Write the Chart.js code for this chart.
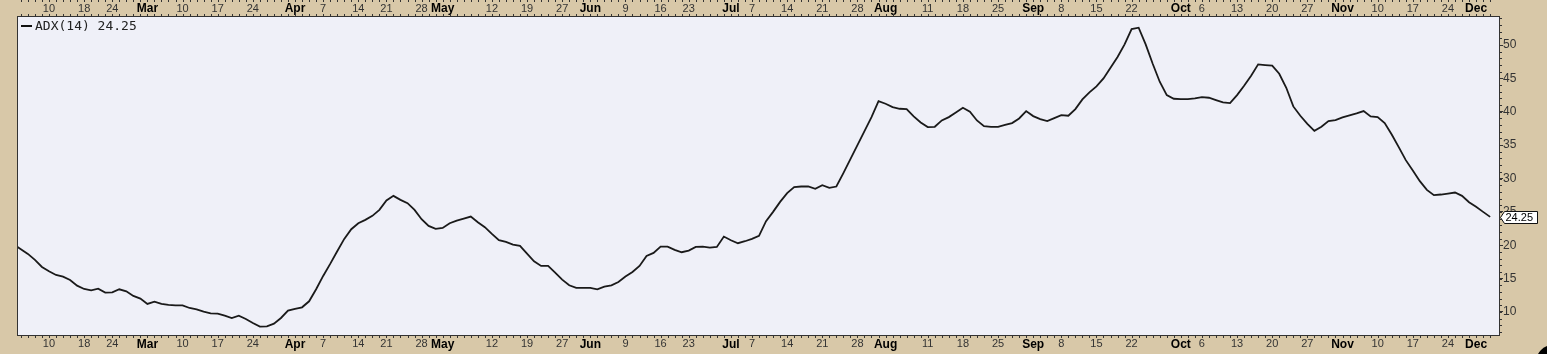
<!DOCTYPE html>
<html>
<head>
<meta charset="utf-8">
<script src="https://cdn.jsdelivr.net/npm/chart.js@4.4.1/dist/chart.umd.min.js"></script>
<style>
  html, body { margin: 0; padding: 0; background: #d8c8a8; }
  canvas { display: block; }
</style>
</head>
<body>
<canvas id="chart" width="1547" height="354"></canvas>
<script>
// trading calendar (weekdays minus market holidays)
const startDate = '2025-02-03';
const endDate = '2025-12-03';
const holidays = ['2025-02-17', '2025-04-18', '2025-05-26', '2025-06-19', '2025-07-04', '2025-09-01', '2025-11-27'];

// ADX(14), one value per trading day
const adxValues = [
  20.1, 19.4, 18.7, 17.8, 16.75,
  16.1, 15.55, 15.3, 14.8, 13.95,
  13.45, 13.25, 13.5, 12.9,
  12.95, 13.4, 13.1, 12.4, 12.0,
  11.2, 11.55, 11.2, 11.05, 11.0,
  11.0, 10.6, 10.4, 10.05, 9.8,
  9.75, 9.45, 9.1, 9.45, 8.95,
  8.35, 7.8, 7.85, 8.25, 9.1,
  10.2, 10.45, 10.7, 11.6, 13.4,
  15.4, 17.2, 19.1, 20.95, 22.4,
  23.3, 23.8, 24.4, 25.3,
  26.7, 27.4, 26.8, 26.3, 25.3,
  23.9, 22.9, 22.45, 22.6, 23.3,
  23.7, 24.0, 24.3, 23.45, 22.7,
  21.7, 20.75, 20.5, 20.1, 19.9,
  18.75, 17.6, 16.9, 16.9, 15.9,
  14.85, 14.0, 13.6, 13.6,
  13.6, 13.4, 13.8, 14.0, 14.5,
  15.3, 16.0, 16.9, 18.4, 18.85,
  19.8, 19.8, 19.3, 18.95,
  19.2, 19.75, 19.8, 19.65, 19.75,
  21.3, 20.75, 20.3, 20.6,
  20.95, 21.4, 23.6, 25.0, 26.5,
  27.8, 28.7, 28.8, 28.8, 28.45,
  29.0, 28.6, 28.8, 30.8, 32.9,
  35.0, 37.1, 39.2, 41.6, 41.2,
  40.7, 40.45, 40.4, 39.3, 38.4,
  37.7, 37.75, 38.7, 39.2, 39.9,
  40.6, 40.0, 38.7, 37.85, 37.75,
  37.75, 38.05, 38.3, 39.0, 40.1,
  39.35, 38.9, 38.6, 39.05,
  39.5, 39.4, 40.4, 41.85, 42.9,
  43.8, 45.0, 46.6, 48.2, 50.1,
  52.4, 52.6, 50.1, 47.2, 44.5,
  42.5, 41.95, 41.9, 41.9, 42.0,
  42.2, 42.1, 41.75, 41.4, 41.3,
  42.5, 43.9, 45.4, 47.1, 47.0,
  46.9, 45.7, 43.6, 40.8, 39.4,
  38.2, 37.15, 37.75, 38.6, 38.75,
  39.15, 39.45, 39.75, 40.1, 39.3,
  39.2, 38.3, 36.6, 34.7, 32.75,
  31.2, 29.6, 28.3, 27.5, 27.6,
  27.75, 27.9, 27.4, 26.45,
  25.75, 25.0, 24.25
];

// date axis labels
const tickDates = [
  '2025-02-10', '2025-02-18', '2025-02-24', '2025-03-03', '2025-03-10', '2025-03-17', '2025-03-24',
  '2025-04-01', '2025-04-07', '2025-04-14', '2025-04-21', '2025-04-28', '2025-05-01', '2025-05-12',
  '2025-05-19', '2025-05-27', '2025-06-02', '2025-06-09', '2025-06-16', '2025-06-23', '2025-07-01',
  '2025-07-07', '2025-07-14', '2025-07-21', '2025-07-28', '2025-08-01', '2025-08-11', '2025-08-18',
  '2025-08-25', '2025-09-02', '2025-09-08', '2025-09-15', '2025-09-22', '2025-10-01', '2025-10-06',
  '2025-10-13', '2025-10-20', '2025-10-27', '2025-11-03', '2025-11-10', '2025-11-17', '2025-11-24',
  '2025-12-01'
];
const tickLabels = [
  '10', '18', '24', 'Mar', '10', '17', '24',
  'Apr', '7', '14', '21', '28', 'May', '12',
  '19', '27', 'Jun', '9', '16', '23', 'Jul',
  '7', '14', '21', '28', 'Aug', '11', '18',
  '25', 'Sep', '8', '15', '22', 'Oct', '6',
  '13', '20', '27', 'Nov', '10', '17', '24',
  'Dec'
];
const yTickValues = [10, 15, 20, 25, 30, 35, 40, 45, 50];
const seriesName = 'ADX(14)';

function tradingDays(from, to) {
  const out = [];
  const d = new Date(from + 'T00:00:00Z');
  const end = new Date(to + 'T00:00:00Z');
  while (d <= end) {
    const iso = d.toISOString().slice(0, 10);
    const wd = d.getUTCDay();
    if (wd !== 0 && wd !== 6 && !holidays.includes(iso)) out.push(iso);
    d.setUTCDate(d.getUTCDate() + 1);
  }
  return out;
}

const days = tradingDays(startDate, endDate);
const tickIdx = tickDates.map(d => days.indexOf(d));
const points = adxValues.map((v, i) => ({ x: i, y: v }));
const lastValue = adxValues[adxValues.length - 1];

const TAN = '#d8c8a8';
const PLOT_BG = '#eff0f8';
const INK = '#222';

const isMonth = i => isNaN(Number(tickLabels[i]));
const xFont = ctx => ({
  family: '"Liberation Sans", Arial, sans-serif',
  size: isMonth(ctx.index) ? 12 : 11,
  weight: isMonth(ctx.index) ? 'bold' : 'normal'
});
const xColor = ctx => isMonth(ctx.index) ? '#000' : '#333';

function dateAxis(position, height, padding) {
  return {
    type: 'linear',
    position: position,
    min: 0.45,
    max: 211.26,
    afterBuildTicks: s => { s.ticks = tickIdx.map(v => ({ value: v })); },
    afterFit: s => { s.height = height; },
    grid: { display: false, drawTicks: false },
    border: { display: false },
    ticks: {
      autoSkip: false,
      maxRotation: 0,
      minRotation: 0,
      padding: padding,
      color: xColor,
      font: xFont,
      callback: (v, i) => tickLabels[i]
    }
  };
}

const chartDecor = {
  id: 'chartDecor',
  beforeDraw(chart) {
    const { ctx, chartArea: a } = chart;
    ctx.save();
    ctx.fillStyle = TAN;
    ctx.fillRect(0, 0, chart.width, chart.height);
    ctx.fillStyle = PLOT_BG;
    ctx.fillRect(a.left, a.top, a.right - a.left, a.bottom - a.top);
    ctx.restore();
  },
  afterDraw(chart) {
    const { ctx, chartArea: a } = chart;
    const xs = chart.scales.x;
    const ys = chart.scales.y;
    ctx.save();

    // plot frame
    ctx.strokeStyle = '#333';
    ctx.lineWidth = 1;
    ctx.strokeRect(a.left + 0.5, a.top - 0.5, a.right - a.left, a.bottom - a.top + 1);

    // daily tick dots along the date bands
    ctx.fillStyle = '#333';
    days.forEach((d, i) => {
      const px = Math.round(xs.getPixelForValue(i));
      if (px < a.left || px > a.right) return;
      ctx.fillRect(px, 0, 1, 2);
      ctx.fillRect(px, a.top - 3, 1, 2);
      ctx.fillRect(px, a.bottom + 1, 1, 2);
    });

    // minor ticks on the value axis
    for (let v = 7; v <= 54; v++) {
      const py = Math.round(ys.getPixelForValue(v));
      ctx.fillRect(a.right + 1, py, 2, 1);
    }

    // legend
    ctx.fillStyle = '#111';
    ctx.fillRect(a.left + 4, a.top + 8, 11, 2);
    ctx.font = '13px "DejaVu Sans Mono", monospace';
    ctx.textBaseline = 'middle';
    ctx.fillStyle = INK;
    ctx.fillText(seriesName + ' ' + lastValue.toFixed(2), a.left + 18, a.top + 9.5);

    // last value tag
    const ty = Math.round(ys.getPixelForValue(lastValue)) + 0.5;
    const tx = a.right + 1.5;
    ctx.beginPath();
    ctx.moveTo(tx, ty);
    ctx.lineTo(tx + 4, ty - 6);
    ctx.lineTo(tx + 37, ty - 6);
    ctx.lineTo(tx + 37, ty + 6);
    ctx.lineTo(tx + 4, ty + 6);
    ctx.closePath();
    ctx.fillStyle = '#fff';
    ctx.fill();
    ctx.strokeStyle = '#111';
    ctx.stroke();
    ctx.fillStyle = '#000';
    ctx.font = '11px "Liberation Sans", Arial, sans-serif';
    ctx.fillText(lastValue.toFixed(2), tx + 5, ty + 0.5);

    // corner knob
    ctx.beginPath();
    ctx.arc(1553, 362, 17, 0, Math.PI * 2);
    ctx.fillStyle = '#000';
    ctx.fill();

    ctx.restore();
  }
};

new Chart(document.getElementById('chart'), {
  type: 'line',
  data: {
    datasets: [{
      label: seriesName,
      data: points,
      borderColor: '#1a1a1a',
      borderWidth: 1.8,
      pointRadius: 0,
      tension: 0,
      fill: false,
      clip: 0
    }]
  },
  options: {
    responsive: false,
    animation: false,
    events: [],
    layout: { padding: { left: 17, top: 0, right: 0, bottom: 0 } },
    plugins: {
      legend: { display: false },
      tooltip: { enabled: false }
    },
    scales: {
      x: dateAxis('bottom', 19, 2),
      x2: dateAxis('top', 17, 1),
      y: {
        type: 'linear',
        position: 'right',
        min: 6.55,
        max: 54.2,
        afterBuildTicks: s => { s.ticks = yTickValues.map(v => ({ value: v })); },
        afterFit: s => { s.width = 48; },
        grid: { drawOnChartArea: false, drawTicks: true, tickLength: 4, color: '#333' },
        border: { display: false },
        ticks: {
          padding: 0,
          color: '#333',
          font: { family: '"Liberation Sans", Arial, sans-serif', size: 12 }
        }
      }
    }
  },
  plugins: [chartDecor]
});
</script>
</body>
</html>
